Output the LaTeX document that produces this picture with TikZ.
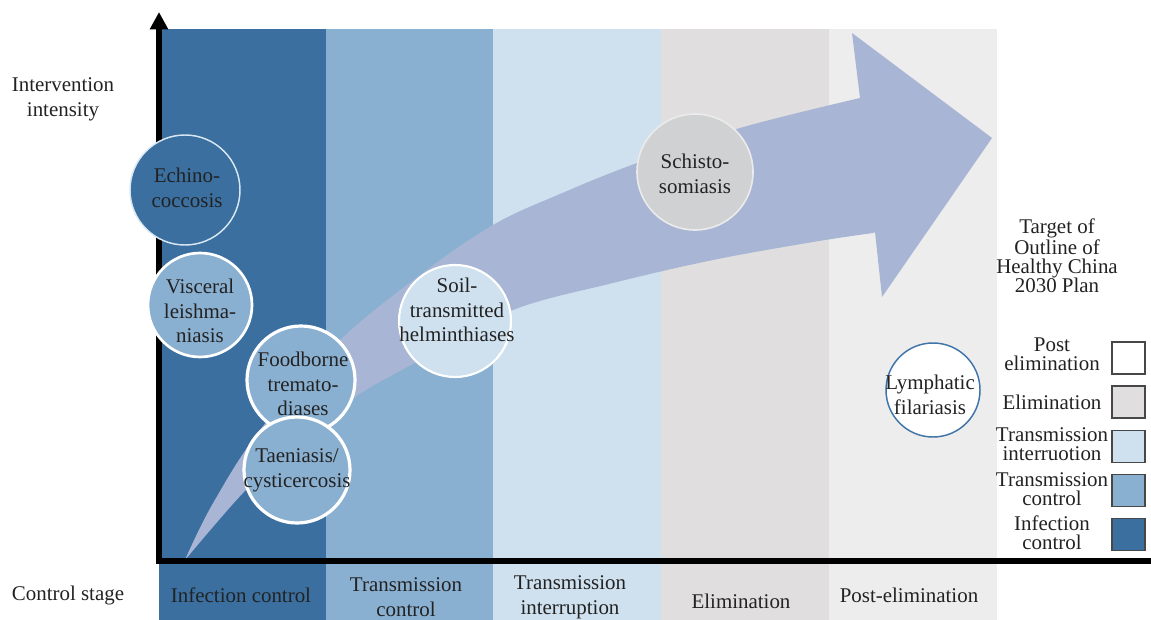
\documentclass[tikz,border=0pt]{standalone}
\usepackage{fontspec}
\setmainfont{Liberation Serif}
\usetikzlibrary{arrows.meta}
\definecolor{cInf}{HTML}{3A6FA0}
\definecolor{cTc}{HTML}{8AB0D1}
\definecolor{cTi}{HTML}{CFE1EF}
\definecolor{cEl}{HTML}{E0DEDF}
\definecolor{cPe}{HTML}{EDEDED}
\definecolor{cArr}{HTML}{A8B5D4}
\definecolor{cSch}{HTML}{D0D1D3}
\definecolor{cTxt}{HTML}{222222}
\definecolor{cRing}{HTML}{3F74A8}
\begin{document}
\begin{tikzpicture}[x=0.75pt,y=-0.75pt,
  every node/.style={font=\fontsize{15.7}{18.5}\selectfont, text=cTxt},
  txt/.style={align=center, inner sep=0pt},
  leg/.style={align=center, inner sep=0pt, font=\fontsize{15.7}{14.3}\selectfont},
  disease/.style={circle, inner sep=0pt, draw=white, line width=2pt},
  legbox/.style={draw=black!72, line width=0.9pt, minimum width=24.75pt, minimum height=24pt, inner sep=0pt},
  axisline/.style={line width=4.5pt, line join=miter, draw=black},
]
\useasboundingbox (0,0) rectangle (1151,620);
% stage bands
\fill[cInf] (159,29) rectangle (326,620);
\fill[cTc] (326,29) rectangle (493,620);
\fill[cTi] (493,29) rectangle (661,620);
\fill[cEl] (661,29) rectangle (829,620);
\fill[cPe] (829,29) rectangle (997,620);
% big curved arrow
\fill[cArr] plot[smooth, tension=0.6] coordinates {(185,560) (212,505) (260,430) (337,343) (420,275) (493,225) (560,194) (637,163) (740,128) (860,98)}
  -- (852,33) -- (992,138) -- (882,297) -- (875,232)
  -- plot[smooth, tension=0.6] coordinates {(873,233) (813,242) (713,260) (613,283) (513,310) (430,355) (355,397) (290,450) (243,493) (185,560)} -- cycle;
% axes
\coordinate (corner) at (159,561);
\coordinate (ytip) at (159,12);
\coordinate (xend) at (1151,561);
\draw[axisline, {Triangle[width=13pt,length=13pt]}-] (ytip) -- (corner) -- (xend);
% disease circles
\node[disease, fill=cInf, draw=cTi!80!white, line width=1.1pt, minimum size=82.5pt] (echi) at (185,190) {};
\node[txt] (echit) at (187,188) {Echino-\\coccosis};
\node[disease, fill=cTc, minimum size=78pt] (visc) at (200,305) {};
\node[txt] (visct) at (200,311) {Visceral\\leishma-\\niasis};
\node[disease, fill=cTc, line width=2.4pt, minimum size=81pt] (food) at (301,380) {};
\node[txt] (foodt) at (303,384) {Foodborne\\tremato-\\diases};
\node[disease, fill=cTc, line width=2.4pt, minimum size=79.5pt] (taen) at (297,470) {};
\node[txt] (taent) at (297,470) {Taeniasis/\\cysticercosis};
\node[disease, fill=cTi, line width=1.6pt, minimum size=84pt] (soil) at (455,321) {};
\node[txt] (soilt) at (457,310) {Soil-\\transmitted\\helminthiases};
\node[disease, fill=cSch, draw=white!92!black, line width=1.2pt, minimum size=87pt] (schi) at (695,172) {};
\node[txt] (schit) at (695,174) {Schisto-\\somiasis};
\node[disease, fill=white, draw=cRing, line width=1.1pt, minimum size=70.5pt] (lymp) at (933,390) {};
\node[txt] (lympt) at (930,395) {Lymphatic\\filariasis};
% axis labels
\node[txt] (ylab) at (63,99) {Intervention\\intensity};
\node[txt] (xlab) at (68,595) {Control stage};
% stage labels
\node[txt] (s1) at (241,595) {Infection control};
\node[txt] (s2) at (406,597) {Transmission\\control};
\node[txt] (s3) at (570,597) {Transmission\\interruption};
\node[txt] (s4) at (741,601) {Elimination};
\node[txt] (s5) at (909,595) {Post-elimination};
% target text
\node[leg] (target) at (1057,256) {Target of\\Outline of\\Healthy China\\2030 Plan};
% legend
\node[legbox, fill=white] (b1) at (1128.5,358) {};
\node[legbox, fill=cEl] (b2) at (1128.5,402) {};
\node[legbox, fill=cTi] (b3) at (1128.5,446.5) {};
\node[legbox, fill=cTc] (b4) at (1128.5,490.5) {};
\node[legbox, fill=cInf] (b5) at (1128.5,534.5) {};
\node[leg] (l1) at (1052,354) {Post\\elimination};
\node[leg] (l2) at (1052,402) {Elimination};
\node[leg] (l3) at (1052,444) {Transmission\\interruotion};
\node[leg] (l4) at (1052,489) {Transmission\\control};
\node[leg] (l5) at (1052,533) {Infection\\control};
\end{tikzpicture}
\end{document}
